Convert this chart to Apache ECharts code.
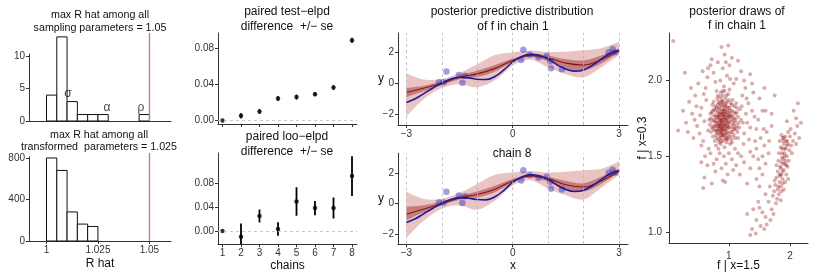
<!DOCTYPE html>
<html><head><meta charset="utf-8">
<script src="https://cdn.jsdelivr.net/npm/echarts@6/dist/echarts.min.js"></script>
<style>html,body{margin:0;padding:0;background:#fff}#c{width:830px;height:277px}</style>
</head><body><div id="c"></div>
<script>
// ---------------- data ----------------
// histogram of R-hat (sampling parameters)
const sampBinStart = [1.000, 1.005, 1.010, 1.015, 1.020, 1.025, 1.045];
const sampCounts   = [4, 13, 3, 1, 1, 1, 1];
// histogram of R-hat (transformed parameters)
const transBinStart = [1.000, 1.005, 1.010, 1.015, 1.020];
const transCounts   = [800, 680, 280, 163, 140];
const binWidth = 0.005;
const rhatThreshold = [1.05];
const paramNames = ['σ', 'α', 'ρ'];
const paramX = [1.0104, 1.0294, 1.0459];
const paramY = [4.2, 2.0, 2.0];
const rhatTicks = [1, 1.025, 1.05];
const sampCountTicks = [0, 5, 10];
const transCountTicks = [0, 400, 800];

// paired elpd differences by chain
const chains = [1, 2, 3, 4, 5, 6, 7, 8];
const testElpd = [0, 0.0052, 0.0100, 0.0244, 0.0260, 0.0293, 0.0367, 0.0893];
const testSe   = [0, 0.0030, 0.0028, 0.0028, 0.0028, 0.0024, 0.0027, 0.0030];
const looElpd  = [0, -0.0095, 0.0251, 0.0034, 0.0497, 0.0385, 0.0385, 0.0922];
const looSe    = [0, 0.0223, 0.0110, 0.0115, 0.0240, 0.0120, 0.0176, 0.0335];
const elpdTicks = [0, 0.04, 0.08];

// posterior predictive of f
const gpX = [-3, -2.5, -2, -1.5, -1, -0.5, 0, 0.5, 1, 1.5, 2, 2.5, 3];
const chain1Mean    = [-0.60, -0.30, 0.00, 0.40, 0.62, 0.98, 1.50, 1.83, 1.65, 1.32, 1.20, 1.55, 2.15];
const chain1InnerLo = [-0.90, -0.50, -0.10, 0.27, 0.42, 0.78, 1.40, 1.74, 1.45, 1.00, 0.85, 1.30, 2.05];
const chain1InnerHi = [-0.30, -0.15, 0.12, 0.52, 0.82, 1.20, 1.62, 1.94, 1.80, 1.57, 1.50, 1.82, 2.28];
const chain1OuterLo = [-2.15, -1.00, -0.30, -0.05, -0.25, 0.20, 1.15, 1.55, 1.05, 0.60, 0.40, 1.05, 1.85];
const chain1OuterHi = [0.65, 0.25, 0.28, 0.68, 1.25, 1.85, 2.02, 2.15, 2.05, 2.07, 2.17, 2.30, 2.72];
const chain8Mean    = [-0.70, -0.35, 0.00, 0.38, 0.60, 0.95, 1.50, 1.83, 1.65, 1.25, 1.10, 1.50, 2.15];
const chain8InnerLo = [-1.10, -0.55, -0.12, 0.25, 0.40, 0.75, 1.38, 1.74, 1.45, 0.95, 0.80, 1.30, 2.05];
const chain8InnerHi = [-0.20, -0.10, 0.12, 0.50, 0.80, 1.18, 1.62, 1.94, 1.78, 1.50, 1.35, 1.78, 2.30];
const chain8OuterLo = [-2.25, -1.10, -0.33, -0.10, -0.40, 0.20, 1.20, 1.55, 1.00, 0.55, 0.27, 1.05, 1.90];
const chain8OuterHi = [0.78, 0.30, 0.33, 0.70, 1.30, 1.90, 2.05, 2.15, 2.05, 2.10, 2.20, 2.30, 2.78];
const trueX = [-3, -2.75, -2.5, -2.25, -2, -1.75, -1.5, -1.25, -1, -0.75, -0.5, -0.25, 0, 0.25, 0.5, 0.75, 1, 1.25, 1.5, 1.75, 2, 2.25, 2.5, 2.75, 3];
const trueF = [-1.25, -1.0, -0.65, -0.3, 0.02, 0.28, 0.40, 0.36, 0.27, 0.25, 0.45, 0.88, 1.40, 1.75, 1.90, 1.82, 1.60, 1.22, 0.93, 0.80, 0.88, 1.18, 1.58, 1.97, 2.15];
const obsX = [-2.08, -1.95, -1.87, -1.52, -1.42, -1.35, 0.24, 0.30, 0.48, 0.73, 0.96, 1.06, 1.08, 1.39, 2.71, 2.82, 2.89];
const obsY = [0.08, 0.08, 0.78, 0.54, 0.04, 0.49, 1.52, 2.20, 1.87, 1.70, 1.78, 1.45, 0.98, 0.93, 2.03, 2.24, 2.04];
const gpGridX = [-3, -2, -1, 0, 1, 2, 3];
const gpXTicks = [-3, 0, 3];
const gpYTicks = [-2, 0, 2];

// posterior draws: [f | x=1.5, f | x=0.3]
const fDraws = [
[0.92,1.74],[0.85,1.78],[0.98,1.70],[0.88,1.66],[1.02,1.80],[0.79,1.72],[0.95,1.85],[0.83,1.61],[1.07,1.73],[0.90,1.90],
[0.76,1.81],[1.12,1.68],[0.97,1.62],[0.86,1.71],[0.93,1.79],[1.00,1.76],[0.81,1.88],[0.72,1.69],[1.05,1.59],[0.89,1.83],
[0.94,1.67],[0.78,1.76],[1.09,1.83],[0.84,1.74],[0.99,1.91],[0.87,1.58],[1.15,1.76],[0.74,1.63],[0.91,1.70],[1.03,1.66],
[0.80,1.93],[0.96,1.77],[0.88,1.75],[1.10,1.62],[0.70,1.78],[0.85,1.85],[1.01,1.72],[0.93,1.56],[0.77,1.67],[1.06,1.87],
[0.90,1.64],[0.82,1.79],[0.95,1.73],[1.13,1.70],[0.68,1.74],[0.87,1.69],[0.99,1.82],[0.79,1.57],[1.04,1.77],[0.92,1.96],
[0.84,1.68],[1.18,1.81],[0.75,1.86],[0.97,1.66],[0.89,1.78],[1.08,1.64],[0.73,1.73],[0.94,1.88],[0.86,1.62],[1.02,1.69],
[0.81,1.75],[1.11,1.78],[0.91,1.81],[0.96,1.59],[0.78,1.83],[1.00,1.65],[0.87,1.92],[1.06,1.71],[0.83,1.65],[0.93,1.76],
[0.71,1.66],[1.14,1.66],[0.88,1.72],[0.98,1.79],[0.80,1.70],[1.03,1.85],[0.90,1.60],[0.85,1.81],[1.09,1.75],[0.76,1.77],
[0.95,1.69],[1.16,1.72],[0.82,1.90],[0.99,1.63],[0.89,1.86],[1.05,1.80],[0.74,1.80],[0.92,1.67],[1.01,1.94],[0.86,1.77],
[0.97,1.72],[0.79,1.64],[1.12,1.85],[0.84,1.59],[0.94,1.83],[1.07,1.68],[0.69,1.71],[0.91,1.77],[1.04,1.61],[0.87,1.84],
[0.82,1.72],[0.96,1.90],[1.10,1.72],[0.77,1.60],[0.93,1.71],[1.20,1.74],[0.73,1.84],[0.88,1.63],[1.00,1.87],[0.85,1.70],
[0.98,1.75],[1.15,1.62],[0.80,1.82],[0.90,1.74],[1.06,1.76],[0.75,1.70],[0.94,1.64],[1.02,1.58],[0.83,1.86],[0.97,1.80],
[0.89,1.68],[1.13,1.79],[0.78,1.73],[0.92,1.84],[1.08,1.70],[0.86,1.66],[1.01,1.78],[0.71,1.75],[0.95,1.61],[0.84,1.76],
[1.17,1.69],[0.90,1.93],[0.81,1.67],
[0.88,1.73],[0.91,1.76],[0.86,1.79],[0.95,1.75],[0.90,1.71],[0.83,1.70],[0.97,1.68],[0.92,1.80],[0.87,1.74],[1.00,1.73],
[0.84,1.82],[0.94,1.70],[0.89,1.65],[0.99,1.77],[0.81,1.77],[1.04,1.74],[0.93,1.62],[0.78,1.70],[0.96,1.83],[0.88,1.87],
[1.06,1.66],[0.85,1.64],[0.91,1.68],[1.01,1.82],[0.76,1.74],[0.94,1.78],[0.87,1.60],[1.08,1.79],[0.82,1.84],[0.98,1.71],
[0.90,1.86],[0.80,1.66],[1.03,1.63],[0.86,1.73],[0.93,1.93],[0.72,1.79],[1.11,1.74],[0.89,1.80],[0.95,1.65],[0.84,1.71],
[1.00,1.69],[0.79,1.80],[0.92,1.72],[1.05,1.84],[0.87,1.67],[0.97,1.86],[0.83,1.76],[1.09,1.68],[0.91,1.64],[0.75,1.68],
[0.98,1.61],[0.86,1.89],[1.02,1.76],[0.88,1.69],[0.94,1.81],[0.80,1.62],[1.13,1.82],[0.90,1.78],[0.96,1.74],[0.82,1.68],
[0.55,1.82],[0.48,1.70],[0.62,1.95],[0.40,1.78],[0.58,1.60],[0.35,1.86],[0.65,2.02],[0.52,1.65],[0.45,1.90],[0.60,1.73],
[0.30,1.72],[0.67,1.55],[0.50,1.98],[0.42,1.62],[0.63,1.87],[0.57,2.06],[0.38,1.95],[0.66,1.67],[0.53,1.77],[0.25,1.80],
[0.47,1.83],[0.61,1.50],[0.44,1.74],[0.70,2.10],[0.33,1.66],[0.59,1.91],[0.28,2.05],[0.55,1.57],
[0.75,2.05],[0.82,2.12],[0.90,2.08],[0.97,2.03],[1.05,2.15],[1.12,2.01],[0.86,2.00],[0.78,1.99],[0.93,2.17],[1.20,2.06],
[1.01,2.10],[0.72,2.14],[1.15,2.13],[0.88,2.22],[1.25,2.00],[0.66,2.08],[1.08,1.98],[1.35,2.04],[0.95,2.12],[1.02,2.01],
[1.22,1.90],[1.28,1.78],[1.25,1.65],[1.32,1.85],[1.30,1.72],[1.38,1.80],[1.24,1.58],[1.35,1.69],[1.42,1.76],[1.27,1.95],
[1.40,1.92],[1.21,1.83],[1.45,1.68],[1.33,1.61],[1.50,1.88],[1.29,1.88],[1.48,1.74],[1.38,1.98],[1.55,1.80],[1.23,1.72],
[1.43,1.60],
[0.70,1.52],[0.80,1.48],[0.92,1.50],[1.00,1.52],[1.10,1.55],[0.85,1.52],[0.75,1.45],[0.95,1.45],[1.05,1.48],[1.15,1.52],
[0.65,1.44],[0.88,1.42],[1.20,1.50],[0.98,1.38],[0.78,1.40],[1.12,1.44],[0.60,1.36],[1.25,1.46],[0.83,1.55],[1.07,1.41],
[0.55,1.46],[0.72,1.32],[1.18,1.38],[0.90,1.34],
[1.45,1.55],[1.52,1.62],[1.58,1.57],[1.62,1.66],[1.55,1.50],[1.66,1.60],[1.48,1.48],[1.70,1.70],[1.60,1.45],[1.65,1.52],
[1.40,1.50],[1.57,1.68],[1.35,1.53],[1.50,1.42],
[1.95,1.60],[1.90,1.58],[2.00,1.63],[1.88,1.62],[1.93,1.55],[2.02,1.57],[1.85,1.56],[1.97,1.66],[1.91,1.52],[1.87,1.49],
[1.95,1.50],[2.05,1.60],[1.82,1.52],[1.99,1.54],[1.89,1.45],[1.93,1.47],[1.84,1.43],[1.90,1.41],[1.86,1.38],[1.96,1.43],
[1.80,1.40],[1.88,1.35],[1.83,1.33],[1.78,1.36],[1.85,1.30],[1.80,1.28],[1.76,1.31],[1.82,1.25],[1.74,1.27],[1.79,1.22],
[1.72,1.24],[1.85,1.21],[1.77,1.19],[1.90,1.28],[1.94,1.38],[1.87,1.55],[1.92,1.63],[2.08,1.65],[1.83,1.60],[1.98,1.47],
[2.03,1.52],[1.91,1.50],[1.86,1.46],[1.81,1.47],[1.95,1.57],[1.89,1.60],[2.10,1.58],[1.78,1.44],[1.92,1.33],[1.84,1.37],
[1.75,1.34],[1.97,1.35],[1.88,1.40],[1.94,1.44],[2.01,1.68],[1.86,1.64],[2.12,1.70],[2.15,1.62],[2.18,1.72],[2.10,1.75],
[2.06,1.80],[2.13,1.85],
[1.91,1.55],[1.87,1.52],[1.94,1.60],[1.89,1.48],[1.85,1.42],[1.92,1.45],[1.83,1.38],[1.88,1.32],[1.81,1.30],[1.86,1.27],
[1.97,1.58],[1.90,1.62],
[1.70,1.15],[1.65,1.20],[1.73,1.12],[1.60,1.10],[1.68,1.08],[1.55,1.13],[1.62,1.05],[1.50,1.16],[1.58,1.02],[1.45,1.08],
[1.52,1.04],[1.40,1.15],[1.44,0.99],[1.35,0.98],[1.38,1.02],[1.48,1.20],[1.60,1.25],[1.67,1.30],
[1.60,1.80],[1.75,1.90],[1.70,1.78],[1.58,1.95],[1.95,1.73],[1.45,1.35],[1.50,1.30],[1.55,1.38],[1.35,1.42],[1.30,1.32],
[0.09,2.26],[0.99,2.23],[0.17,1.67],[0.58,1.29],[0.94,1.33],[1.30,1.12]
];
const drawXTicks = [1, 2];
const drawYTicks = [1.0, 1.5, 2.0];

// ---------------- chart ----------------
const FONT = '"Liberation Sans", Arial, Helvetica, sans-serif';
const AX = '#333';
const minus = s => String(s).replace('-', '\u2212');

function axis(gridIndex, min, max, ticks, fmt, showLabel, extra, labelMargin) {
  const a = {
    type: 'value', gridIndex, min, max,
    nameMoveOverlap: false,
    axisLine: {show: true, onZero: false, lineStyle: {color: AX, width: 1}},
    axisTick: {show: ticks.length > 0, length: 3, customValues: ticks, lineStyle: {color: AX, width: 1}},
    axisLabel: {show: showLabel, customValues: ticks, formatter: fmt, fontSize: 10, color: '#333',
                margin: labelMargin || 4, fontFamily: FONT},
    splitLine: {show: false},
    nameTextStyle: {fontSize: 12, color: '#111', fontFamily: FONT}
  };
  return Object.assign(a, extra || {});
}

const grids = [
  {left: 29, top: 33, width: 142, height: 88},
  {left: 29, top: 153, width: 142, height: 88},
  {left: 218, top: 33, width: 139, height: 91},
  {left: 218, top: 153, width: 139, height: 91.3},
  {left: 398, top: 33, width: 230, height: 92},
  {left: 398, top: 153.3, width: 230, height: 91},
  {left: 669, top: 33, width: 139, height: 211.3}
];

const RMIN = 0.9915, RMAX = 1.0605;
const xAxes = [
  axis(0, RMIN, RMAX, [], null, false),
  axis(1, RMIN, RMAX, rhatTicks, v => String(v), true, {name: 'R hat', nameLocation: 'middle', nameGap: 17}),
  axis(2, 0.757, 8.27, chains, null, false),
  axis(3, 0.757, 8.27, chains, v => String(v), true, {name: 'chains', nameLocation: 'middle', nameGap: 15}),
  axis(4, -3.237, 3.254, gpXTicks, v => minus(v), true),
  axis(5, -3.237, 3.254, gpXTicks, v => minus(v), true, {name: 'x', nameLocation: 'middle', nameGap: 15}),
  axis(6, 0.021, 2.295, drawXTicks, v => String(v), true, {name: 'f | x=1.5', nameLocation: 'middle', nameGap: 17}, 8)
];
const yAxes = [
  axis(0, 0, 13.6, sampCountTicks, v => String(v), true, {axisLine: {show: false}}),
  axis(1, 0, 848, transCountTicks, v => String(v), true, {axisLine: {show: false}}),
  axis(2, -0.004, 0.0975, elpdTicks, v => v.toFixed(2), true),
  axis(3, -0.0223, 0.131, elpdTicks, v => v.toFixed(2), true),
  axis(4, -2.72, 3.29, gpYTicks, v => minus(v), true, {name: 'y', nameLocation: 'middle', nameGap: 14, nameRotate: 0}),
  axis(5, -2.68, 3.32, gpYTicks, v => minus(v), true, {name: 'y', nameLocation: 'middle', nameGap: 14, nameRotate: 0}),
  axis(6, 0.928, 2.3125, drawYTicks, v => v.toFixed(1), true, {name: 'f | x=0.3', nameLocation: 'middle', nameGap: 20}, 7)
];

function histSeries(idx, starts, counts, capTop) {
  return {
    type: 'custom', xAxisIndex: idx, yAxisIndex: idx,
    data: starts.map((s, i) => [s, s + binWidth, counts[i]]),
    encode: {x: [0, 1], y: 2},
    renderItem: (p, api) => {
      const a = api.coord([api.value(0), 0]);
      const b = api.coord([api.value(1), api.value(2)]);
      return {type: 'rect', shape: {x: a[0], y: b[1], width: b[0] - a[0], height: a[1] - b[1]},
              style: {fill: '#fff', stroke: '#111', lineWidth: 1}};
    },
    markLine: {
      silent: true, symbol: ['none', 'none'], label: {show: false}, animation: false,
      data: [
        {xAxis: rhatThreshold[0], lineStyle: {color: '#cd7f7f', width: 1.4, type: 'solid'}},
        [{coord: [RMIN, 0], lineStyle: {color: AX, width: 1, type: 'solid'}}, {coord: [RMIN, capTop]}]
      ]
    }
  };
}

function errBars(idx, means, ses, w) {
  return {
    type: 'custom', xAxisIndex: idx, yAxisIndex: idx, clip: true,
    data: chains.map((c, i) => [c, means[i] - ses[i], means[i] + ses[i]]),
    encode: {x: 0, y: [1, 2]},
    renderItem: (p, api) => {
      const a = api.coord([api.value(0), api.value(1)]);
      const b = api.coord([api.value(0), api.value(2)]);
      return {type: 'line', shape: {x1: a[0], y1: a[1], x2: b[0], y2: b[1]}, style: {stroke: '#000', lineWidth: w}};
    }
  };
}
function elpdPoints(idx, means) {
  return {
    type: 'scatter', xAxisIndex: idx, yAxisIndex: idx, symbolSize: 4.5,
    itemStyle: {color: '#000'}, data: chains.map((c, i) => [c, means[i]]),
    markLine: {silent: true, symbol: ['none', 'none'], label: {show: false},
      lineStyle: {color: '#bdbdbd', type: [3, 3], width: 0.8}, data: [{yAxis: 0}]},
    z: 3
  };
}

// smooth (Catmull-Rom) path through pixel points
function smoothPath(pts, start) {
  let d = (start ? 'M' : 'L') + pts[0][0] + ' ' + pts[0][1];
  for (let i = 0; i < pts.length - 1; i++) {
    const p0 = pts[Math.max(0, i - 1)], p1 = pts[i], p2 = pts[i + 1], p3 = pts[Math.min(pts.length - 1, i + 2)];
    const c1x = p1[0] + (p2[0] - p0[0]) / 6, c1y = p1[1] + (p2[1] - p0[1]) / 6;
    const c2x = p2[0] - (p3[0] - p1[0]) / 6, c2y = p2[1] - (p3[1] - p1[1]) / 6;
    d += ' C' + c1x + ' ' + c1y + ' ' + c2x + ' ' + c2y + ' ' + p2[0] + ' ' + p2[1];
  }
  return d;
}

function bandSeries(idx, lo, hi, color) {
  return {
    type: 'custom', xAxisIndex: idx, yAxisIndex: idx, silent: true, clip: true,
    data: gpX.map((x, i) => [x, lo[i], hi[i]]),
    encode: {x: 0, y: [1, 2]},
    renderItem: (params, api) => {
      if (params.dataIndexInside !== 0) return null;
      const n = params.dataInsideLength;
      const up = [], dn = [];
      for (let i = 0; i < n; i++) {
        up.push(api.coord([api.value(0, i), api.value(2, i)]));
        dn.push(api.coord([api.value(0, i), api.value(1, i)]));
      }
      dn.reverse();
      const d = smoothPath(up, true) + ' ' + smoothPath(dn, false) + ' Z';
      return {type: 'path', shape: {pathData: d}, style: {fill: color, stroke: null}};
    }
  };
}

function gpPanel(idx, mean, inLo, inHi, outLo, outHi) {
  const common = {type: 'line', xAxisIndex: idx, yAxisIndex: idx, symbol: 'none', smooth: 0.45, silent: true};
  return [
    bandSeries(idx, outLo, outHi, 'rgba(180,40,40,0.28)'),
    bandSeries(idx, inLo, inHi, 'rgba(140,20,20,0.40)'),
    Object.assign({}, common, {data: gpX.map((x, i) => [x, mean[i]]), lineStyle: {color: '#8b1515', width: 1.1},
      markLine: {silent: true, symbol: ['none', 'none'], label: {show: false},
        lineStyle: {color: '#b5b5b5', type: [3, 3], width: 0.8}, data: gpGridX.map(v => ({xAxis: v}))}}),
    Object.assign({}, common, {data: trueX.map((x, i) => [x, trueF[i]]), smooth: 0.4, lineStyle: {color: '#1c1c9a', width: 1.6}}),
    {type: 'scatter', xAxisIndex: idx, yAxisIndex: idx, symbolSize: 6.5, silent: true,
     itemStyle: {color: 'rgba(55,55,190,0.6)'}, data: obsX.map((x, i) => [x, obsY[i]])}
  ];
}

const series = [
  histSeries(0, sampBinStart, sampCounts, 10.4),
  {type: 'scatter', xAxisIndex: 0, yAxisIndex: 0, symbolSize: 1, itemStyle: {color: 'rgba(0,0,0,0)'}, silent: true,
   data: paramNames.map((n, i) => ({name: n, value: [paramX[i], paramY[i]]})),
   label: {show: true, position: 'inside', formatter: p => p.name, fontSize: 12, color: '#111', fontFamily: FONT}},
  histSeries(1, transBinStart, transCounts, 816),
  errBars(2, testElpd, testSe, 1.4),
  elpdPoints(2, testElpd),
  errBars(3, looElpd, looSe, 1.8),
  elpdPoints(3, looElpd),
  ...gpPanel(4, chain1Mean, chain1InnerLo, chain1InnerHi, chain1OuterLo, chain1OuterHi),
  ...gpPanel(5, chain8Mean, chain8InnerLo, chain8InnerHi, chain8OuterLo, chain8OuterHi),
  {type: 'scatter', xAxisIndex: 6, yAxisIndex: 6, symbolSize: 4, silent: true,
   itemStyle: {color: 'rgba(145,10,10,0.42)'}, data: fDraws}
];

function txt(s, x, y, size) {
  return {type: 'text', x, y, silent: true,
    style: {text: s, x: 0, y: 0, textAlign: 'center', textVerticalAlign: 'middle',
      font: size + 'px ' + FONT, fill: '#111'}};
}
const graphics = [
  txt('max R hat among all', 100, 15, 10.7),
  txt('sampling parameters = 1.05', 100, 28.3, 10.7),
  txt('max R hat among all', 99, 135, 10.7),
  txt('transformed  parameters = 1.025', 99, 147, 10.7),
  txt('paired test\u2212elpd', 287, 11.7, 12),
  txt('difference  +/\u2212 se', 287, 26.7, 12),
  txt('paired loo\u2212elpd', 287, 136.7, 12),
  txt('difference  +/\u2212 se', 287, 151.7, 12),
  txt('posterior predictive distribution', 512, 11.7, 12),
  txt('of f in chain 1', 513, 26.7, 12),
  txt('chain 8', 512, 154, 12),
  txt('posterior draws of', 737, 11.7, 12),
  txt('f in chain 1', 737, 25.5, 12)
];

const chart = echarts.init(document.getElementById('c'));
chart.setOption({
  animation: false,
  backgroundColor: '#fff',
  textStyle: {fontFamily: FONT},
  grid: grids,
  xAxis: xAxes,
  yAxis: yAxes,
  series,
  graphic: graphics
});
</script>
</body></html>
